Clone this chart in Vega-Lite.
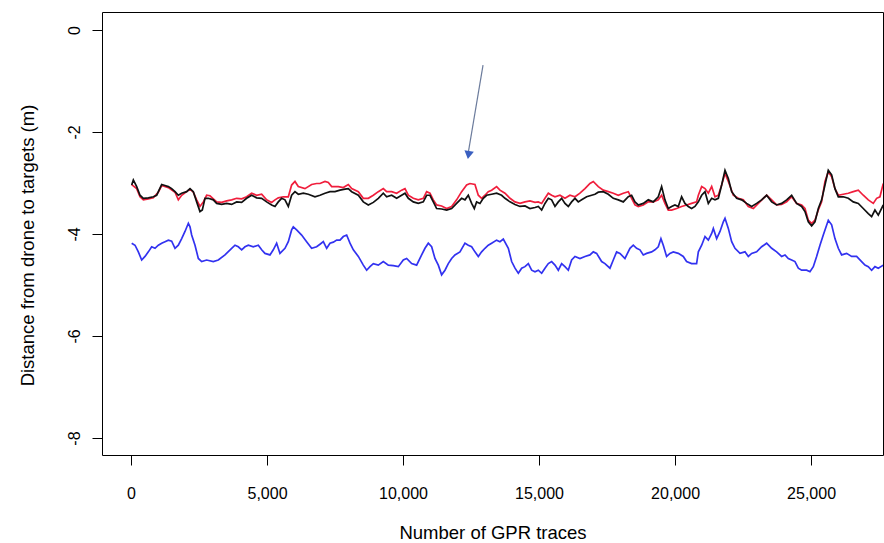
{
  "$schema": "https://vega.github.io/schema/vega-lite/v6.json",
  "width": 781,
  "height": 443,
  "autosize": {"type": "none"},
  "padding": {"left": 102, "top": 12, "right": 1, "bottom": 88},
  "background": "white",
  "config": {
    "view": {"stroke": "#000000", "strokeWidth": 1},
    "font": "Liberation Sans",
    "axis": {"grid": false, "domain": false, "tickColor": "#000000", "labelColor": "#000000", "titleColor": "#000000", "labelFont": "Liberation Sans", "titleFont": "Liberation Sans", "titleFontWeight": "normal"}
  },
  "datasets": {
    "black": [
      {"x":25,"y":-3.04},{"x":86,"y":-2.94},{"x":209,"y":-3.07},{"x":331,"y":-3.24},{"x":454,"y":-3.30},{"x":638,"y":-3.29},{"x":821,"y":-3.27},{"x":944,"y":-3.24},{"x":1005,"y":-3.17},{"x":1128,"y":-3.03},{"x":1250,"y":-3.05},{"x":1373,"y":-3.07},{"x":1495,"y":-3.11},{"x":1618,"y":-3.17},{"x":1740,"y":-3.24},{"x":1863,"y":-3.20},{"x":2046,"y":-3.17},{"x":2169,"y":-3.11},{"x":2291,"y":-3.17},{"x":2414,"y":-3.37},{"x":2536,"y":-3.56},{"x":2622,"y":-3.53},{"x":2720,"y":-3.30},{"x":2843,"y":-3.30},{"x":3026,"y":-3.33},{"x":3149,"y":-3.40},{"x":3333,"y":-3.42},{"x":3516,"y":-3.40},{"x":3700,"y":-3.42},{"x":3884,"y":-3.37},{"x":4068,"y":-3.38},{"x":4251,"y":-3.30},{"x":4435,"y":-3.24},{"x":4619,"y":-3.29},{"x":4803,"y":-3.30},{"x":4986,"y":-3.37},{"x":5170,"y":-3.43},{"x":5293,"y":-3.46},{"x":5415,"y":-3.37},{"x":5538,"y":-3.30},{"x":5660,"y":-3.33},{"x":5783,"y":-3.46},{"x":5905,"y":-3.24},{"x":6028,"y":-3.17},{"x":6150,"y":-3.22},{"x":6334,"y":-3.20},{"x":6518,"y":-3.22},{"x":6763,"y":-3.27},
      {"x":6948,"y":-3.24},{"x":7132,"y":-3.20},{"x":7315,"y":-3.17},{"x":7499,"y":-3.17},{"x":7683,"y":-3.14},{"x":7867,"y":-3.12},{"x":7989,"y":-3.11},{"x":8112,"y":-3.17},{"x":8357,"y":-3.24},{"x":8540,"y":-3.37},{"x":8724,"y":-3.43},{"x":8908,"y":-3.38},{"x":9092,"y":-3.30},{"x":9275,"y":-3.20},{"x":9398,"y":-3.27},{"x":9582,"y":-3.24},{"x":9765,"y":-3.30},{"x":9949,"y":-3.24},{"x":10072,"y":-3.20},{"x":10194,"y":-3.30},{"x":10378,"y":-3.37},{"x":10562,"y":-3.40},{"x":10745,"y":-3.37},{"x":10868,"y":-3.24},{"x":10990,"y":-3.24},{"x":11113,"y":-3.37},{"x":11235,"y":-3.50},{"x":11419,"y":-3.51},{"x":11603,"y":-3.53},{"x":11787,"y":-3.50},{"x":11970,"y":-3.40},{"x":12154,"y":-3.30},{"x":12277,"y":-3.33},{"x":12399,"y":-3.24},{"x":12522,"y":-3.40},{"x":12620,"y":-3.50},{"x":12705,"y":-3.37},{"x":12828,"y":-3.40},{"x":12950,"y":-3.30},{"x":13073,"y":-3.24},{"x":13257,"y":-3.22},{"x":13440,"y":-3.20},{"x":13624,"y":-3.24},
      {"x":13748,"y":-3.30},{"x":13932,"y":-3.37},{"x":14116,"y":-3.42},{"x":14299,"y":-3.46},{"x":14483,"y":-3.45},{"x":14667,"y":-3.50},{"x":14851,"y":-3.48},{"x":14973,"y":-3.46},{"x":15096,"y":-3.53},{"x":15218,"y":-3.40},{"x":15341,"y":-3.30},{"x":15463,"y":-3.33},{"x":15586,"y":-3.46},{"x":15708,"y":-3.37},{"x":15831,"y":-3.30},{"x":15953,"y":-3.40},{"x":16076,"y":-3.46},{"x":16198,"y":-3.37},{"x":16321,"y":-3.30},{"x":16443,"y":-3.37},{"x":16566,"y":-3.33},{"x":16749,"y":-3.27},{"x":16933,"y":-3.24},{"x":17056,"y":-3.22},{"x":17178,"y":-3.18},{"x":17362,"y":-3.17},{"x":17546,"y":-3.22},{"x":17729,"y":-3.30},{"x":17913,"y":-3.33},{"x":18097,"y":-3.37},{"x":18281,"y":-3.27},{"x":18403,"y":-3.24},{"x":18526,"y":-3.37},{"x":18648,"y":-3.43},{"x":18832,"y":-3.40},{"x":19016,"y":-3.33},{"x":19199,"y":-3.37},{"x":19383,"y":-3.27},{"x":19506,"y":-3.07},{"x":19628,"y":-3.33},{"x":19751,"y":-3.50},{"x":19873,"y":-3.46},{"x":19996,"y":-3.43},{"x":20118,"y":-3.46},{"x":20241,"y":-3.27},{"x":20363,"y":-3.40},{"x":20486,"y":-3.46},{"x":20608,"y":-3.50},{"x":20731,"y":-3.46},
      {"x":20856,"y":-3.37},{"x":20978,"y":-3.24},{"x":21101,"y":-3.17},{"x":21223,"y":-3.40},{"x":21346,"y":-3.30},{"x":21468,"y":-3.33},{"x":21591,"y":-3.30},{"x":21713,"y":-3.04},{"x":21836,"y":-2.75},{"x":21958,"y":-2.91},{"x":22081,"y":-3.17},{"x":22264,"y":-3.30},{"x":22448,"y":-3.33},{"x":22632,"y":-3.40},{"x":22816,"y":-3.46},{"x":22999,"y":-3.40},{"x":23183,"y":-3.33},{"x":23367,"y":-3.24},{"x":23551,"y":-3.37},{"x":23734,"y":-3.43},{"x":23918,"y":-3.40},{"x":24102,"y":-3.33},{"x":24286,"y":-3.24},{"x":24469,"y":-3.40},{"x":24653,"y":-3.46},{"x":24776,"y":-3.56},{"x":24898,"y":-3.76},{"x":25021,"y":-3.84},{"x":25143,"y":-3.76},{"x":25266,"y":-3.50},{"x":25388,"y":-3.33},{"x":25511,"y":-3.04},{"x":25633,"y":-2.75},{"x":25756,"y":-2.84},{"x":25878,"y":-3.11},{"x":26001,"y":-3.27},{"x":26184,"y":-3.27},{"x":26368,"y":-3.30},{"x":26552,"y":-3.37},{"x":26736,"y":-3.40},{"x":26919,"y":-3.50},{"x":27103,"y":-3.60},{"x":27226,"y":-3.66},{"x":27348,"y":-3.53},{"x":27471,"y":-3.63},{"x":27654,"y":-3.43}
    ],
    "red": [
      {"x":25,"y":-3.03},{"x":209,"y":-3.11},{"x":331,"y":-3.27},{"x":454,"y":-3.33},{"x":638,"y":-3.31},{"x":821,"y":-3.29},{"x":1005,"y":-3.18},{"x":1128,"y":-3.05},{"x":1373,"y":-3.09},{"x":1618,"y":-3.18},{"x":1740,"y":-3.33},{"x":1863,"y":-3.24},{"x":2046,"y":-3.17},{"x":2169,"y":-3.12},{"x":2291,"y":-3.18},{"x":2414,"y":-3.33},{"x":2536,"y":-3.46},{"x":2659,"y":-3.37},{"x":2781,"y":-3.24},{"x":2904,"y":-3.25},{"x":3026,"y":-3.31},{"x":3149,"y":-3.37},{"x":3333,"y":-3.38},{"x":3516,"y":-3.35},{"x":3700,"y":-3.33},{"x":3884,"y":-3.30},{"x":4068,"y":-3.31},{"x":4251,"y":-3.27},{"x":4435,"y":-3.20},{"x":4619,"y":-3.24},{"x":4803,"y":-3.22},{"x":4986,"y":-3.33},{"x":5170,"y":-3.38},{"x":5293,"y":-3.33},{"x":5415,"y":-3.29},{"x":5599,"y":-3.27},{"x":5783,"y":-3.27},{"x":5905,"y":-3.04},{"x":6028,"y":-2.97},{"x":6150,"y":-3.07},{"x":6395,"y":-3.11},{"x":6640,"y":-3.03},{"x":6824,"y":-3.01},
      {"x":6948,"y":-3.01},{"x":7132,"y":-2.97},{"x":7254,"y":-2.99},{"x":7377,"y":-3.07},{"x":7622,"y":-3.07},{"x":7805,"y":-3.09},{"x":7928,"y":-3.05},{"x":7989,"y":-3.03},{"x":8112,"y":-3.11},{"x":8357,"y":-3.17},{"x":8540,"y":-3.30},{"x":8724,"y":-3.30},{"x":8908,"y":-3.24},{"x":9092,"y":-3.17},{"x":9275,"y":-3.11},{"x":9398,"y":-3.17},{"x":9582,"y":-3.17},{"x":9765,"y":-3.20},{"x":9949,"y":-3.14},{"x":10072,"y":-3.11},{"x":10194,"y":-3.24},{"x":10378,"y":-3.30},{"x":10562,"y":-3.33},{"x":10745,"y":-3.30},{"x":10868,"y":-3.17},{"x":10990,"y":-3.20},{"x":11113,"y":-3.33},{"x":11235,"y":-3.43},{"x":11419,"y":-3.45},{"x":11603,"y":-3.50},{"x":11787,"y":-3.46},{"x":11970,"y":-3.33},{"x":12154,"y":-3.17},{"x":12338,"y":-3.04},{"x":12460,"y":-3.01},{"x":12644,"y":-3.03},{"x":12767,"y":-3.24},{"x":12889,"y":-3.30},{"x":13012,"y":-3.24},{"x":13134,"y":-3.17},{"x":13257,"y":-3.14},{"x":13440,"y":-3.07},{"x":13563,"y":-3.14},{"x":13747,"y":-3.20},
      {"x":13932,"y":-3.30},{"x":14116,"y":-3.37},{"x":14299,"y":-3.40},{"x":14483,"y":-3.37},{"x":14667,"y":-3.35},{"x":14851,"y":-3.38},{"x":14973,"y":-3.37},{"x":15096,"y":-3.40},{"x":15218,"y":-3.30},{"x":15341,"y":-3.20},{"x":15463,"y":-3.24},{"x":15586,"y":-3.27},{"x":15769,"y":-3.24},{"x":15953,"y":-3.30},{"x":16137,"y":-3.24},{"x":16321,"y":-3.27},{"x":16504,"y":-3.20},{"x":16688,"y":-3.11},{"x":16872,"y":-3.01},{"x":16994,"y":-2.97},{"x":17178,"y":-3.07},{"x":17362,"y":-3.14},{"x":17546,"y":-3.17},{"x":17729,"y":-3.20},{"x":17913,"y":-3.24},{"x":18097,"y":-3.20},{"x":18281,"y":-3.17},{"x":18403,"y":-3.30},{"x":18526,"y":-3.43},{"x":18648,"y":-3.46},{"x":18832,"y":-3.43},{"x":19016,"y":-3.37},{"x":19199,"y":-3.37},{"x":19383,"y":-3.33},{"x":19506,"y":-3.24},{"x":19628,"y":-3.40},{"x":19751,"y":-3.53},{"x":19873,"y":-3.53},{"x":20057,"y":-3.50},{"x":20241,"y":-3.46},{"x":20424,"y":-3.43},{"x":20608,"y":-3.40},{"x":20792,"y":-3.37},
      {"x":20856,"y":-3.24},{"x":20978,"y":-3.07},{"x":21101,"y":-3.11},{"x":21223,"y":-3.20},{"x":21346,"y":-3.07},{"x":21468,"y":-3.27},{"x":21591,"y":-3.24},{"x":21713,"y":-3.04},{"x":21836,"y":-2.81},{"x":21958,"y":-2.97},{"x":22142,"y":-3.24},{"x":22326,"y":-3.30},{"x":22509,"y":-3.33},{"x":22693,"y":-3.46},{"x":22877,"y":-3.50},{"x":23061,"y":-3.40},{"x":23244,"y":-3.30},{"x":23367,"y":-3.24},{"x":23551,"y":-3.33},{"x":23734,"y":-3.43},{"x":23918,"y":-3.42},{"x":24102,"y":-3.37},{"x":24286,"y":-3.27},{"x":24469,"y":-3.40},{"x":24653,"y":-3.43},{"x":24776,"y":-3.50},{"x":24898,"y":-3.73},{"x":25021,"y":-3.79},{"x":25143,"y":-3.73},{"x":25266,"y":-3.53},{"x":25388,"y":-3.37},{"x":25511,"y":-2.97},{"x":25633,"y":-2.78},{"x":25756,"y":-2.88},{"x":25878,"y":-3.11},{"x":26001,"y":-3.24},{"x":26184,"y":-3.22},{"x":26368,"y":-3.20},{"x":26552,"y":-3.17},{"x":26736,"y":-3.14},{"x":26919,"y":-3.24},{"x":27103,"y":-3.33},{"x":27287,"y":-3.40},{"x":27410,"y":-3.30},{"x":27532,"y":-3.27},{"x":27654,"y":-3.01}
    ],
    "blue": [
      {"x":25,"y":-4.18},{"x":148,"y":-4.22},{"x":270,"y":-4.35},{"x":393,"y":-4.51},{"x":515,"y":-4.44},{"x":638,"y":-4.35},{"x":760,"y":-4.25},{"x":883,"y":-4.28},{"x":1005,"y":-4.22},{"x":1128,"y":-4.18},{"x":1250,"y":-4.15},{"x":1373,"y":-4.12},{"x":1495,"y":-4.14},{"x":1618,"y":-4.28},{"x":1740,"y":-4.22},{"x":1863,"y":-4.09},{"x":1985,"y":-3.95},{"x":2108,"y":-3.79},{"x":2169,"y":-3.86},{"x":2230,"y":-4.02},{"x":2353,"y":-4.22},{"x":2475,"y":-4.48},{"x":2598,"y":-4.54},{"x":2781,"y":-4.51},{"x":3026,"y":-4.54},{"x":3210,"y":-4.51},{"x":3455,"y":-4.41},{"x":3700,"y":-4.28},{"x":3823,"y":-4.22},{"x":3945,"y":-4.25},{"x":4068,"y":-4.31},{"x":4190,"y":-4.25},{"x":4313,"y":-4.22},{"x":4496,"y":-4.25},{"x":4680,"y":-4.22},{"x":4803,"y":-4.31},{"x":4925,"y":-4.38},{"x":5109,"y":-4.41},{"x":5231,"y":-4.31},{"x":5354,"y":-4.18},{"x":5476,"y":-4.38},{"x":5660,"y":-4.28},{"x":5783,"y":-4.15},{"x":5905,"y":-3.92},{"x":5966,"y":-3.86},{"x":6089,"y":-3.92},{"x":6273,"y":-4.02},{"x":6456,"y":-4.15},{"x":6640,"y":-4.28},{"x":6824,"y":-4.25},
      {"x":6948,"y":-4.20},{"x":7070,"y":-4.15},{"x":7193,"y":-4.28},{"x":7315,"y":-4.18},{"x":7438,"y":-4.16},{"x":7560,"y":-4.12},{"x":7683,"y":-4.12},{"x":7805,"y":-4.05},{"x":7928,"y":-4.02},{"x":8050,"y":-4.18},{"x":8173,"y":-4.31},{"x":8357,"y":-4.44},{"x":8540,"y":-4.61},{"x":8663,"y":-4.71},{"x":8785,"y":-4.64},{"x":8908,"y":-4.58},{"x":9092,"y":-4.61},{"x":9275,"y":-4.54},{"x":9459,"y":-4.61},{"x":9643,"y":-4.62},{"x":9827,"y":-4.64},{"x":10010,"y":-4.51},{"x":10133,"y":-4.48},{"x":10317,"y":-4.58},{"x":10500,"y":-4.61},{"x":10684,"y":-4.41},{"x":10807,"y":-4.28},{"x":10929,"y":-4.18},{"x":11052,"y":-4.25},{"x":11174,"y":-4.48},{"x":11297,"y":-4.61},{"x":11419,"y":-4.80},{"x":11542,"y":-4.71},{"x":11664,"y":-4.58},{"x":11787,"y":-4.48},{"x":11909,"y":-4.41},{"x":12093,"y":-4.35},{"x":12277,"y":-4.18},{"x":12399,"y":-4.22},{"x":12522,"y":-4.25},{"x":12644,"y":-4.35},{"x":12767,"y":-4.44},{"x":12889,"y":-4.35},{"x":13012,"y":-4.28},{"x":13134,"y":-4.22},{"x":13257,"y":-4.18},{"x":13440,"y":-4.12},{"x":13563,"y":-4.15},{"x":13686,"y":-4.10},
      {"x":13871,"y":-4.28},{"x":13993,"y":-4.54},{"x":14116,"y":-4.67},{"x":14238,"y":-4.77},{"x":14361,"y":-4.67},{"x":14483,"y":-4.64},{"x":14606,"y":-4.58},{"x":14728,"y":-4.71},{"x":14851,"y":-4.74},{"x":14973,"y":-4.71},{"x":15096,"y":-4.77},{"x":15218,"y":-4.67},{"x":15341,"y":-4.58},{"x":15463,"y":-4.54},{"x":15586,"y":-4.61},{"x":15708,"y":-4.71},{"x":15831,"y":-4.58},{"x":15953,"y":-4.64},{"x":16076,"y":-4.71},{"x":16198,"y":-4.51},{"x":16321,"y":-4.44},{"x":16504,"y":-4.48},{"x":16688,"y":-4.44},{"x":16872,"y":-4.41},{"x":16994,"y":-4.35},{"x":17117,"y":-4.38},{"x":17301,"y":-4.54},{"x":17423,"y":-4.58},{"x":17607,"y":-4.67},{"x":17729,"y":-4.51},{"x":17852,"y":-4.35},{"x":17974,"y":-4.38},{"x":18158,"y":-4.48},{"x":18342,"y":-4.28},{"x":18464,"y":-4.22},{"x":18587,"y":-4.28},{"x":18709,"y":-4.31},{"x":18832,"y":-4.41},{"x":18954,"y":-4.38},{"x":19138,"y":-4.35},{"x":19261,"y":-4.31},{"x":19383,"y":-4.25},{"x":19481,"y":-4.09},{"x":19567,"y":-4.22},{"x":19689,"y":-4.44},{"x":19812,"y":-4.38},{"x":19934,"y":-4.35},{"x":20118,"y":-4.38},{"x":20302,"y":-4.44},{"x":20424,"y":-4.54},{"x":20608,"y":-4.58},{"x":20792,"y":-4.58},
      {"x":20856,"y":-4.35},{"x":20978,"y":-4.22},{"x":21101,"y":-4.05},{"x":21223,"y":-4.12},{"x":21346,"y":-3.99},{"x":21407,"y":-3.89},{"x":21529,"y":-4.09},{"x":21652,"y":-3.95},{"x":21774,"y":-3.76},{"x":21836,"y":-3.69},{"x":21958,"y":-3.89},{"x":22081,"y":-4.15},{"x":22203,"y":-4.28},{"x":22387,"y":-4.38},{"x":22571,"y":-4.35},{"x":22693,"y":-4.44},{"x":22816,"y":-4.38},{"x":22999,"y":-4.35},{"x":23183,"y":-4.25},{"x":23367,"y":-4.18},{"x":23551,"y":-4.28},{"x":23734,"y":-4.35},{"x":23918,"y":-4.44},{"x":24041,"y":-4.41},{"x":24163,"y":-4.48},{"x":24286,"y":-4.51},{"x":24408,"y":-4.54},{"x":24531,"y":-4.67},{"x":24653,"y":-4.71},{"x":24837,"y":-4.71},{"x":24959,"y":-4.74},{"x":25082,"y":-4.64},{"x":25204,"y":-4.44},{"x":25327,"y":-4.22},{"x":25449,"y":-4.02},{"x":25633,"y":-3.73},{"x":25756,"y":-3.82},{"x":25878,"y":-4.09},{"x":26001,"y":-4.28},{"x":26123,"y":-4.41},{"x":26307,"y":-4.38},{"x":26491,"y":-4.44},{"x":26674,"y":-4.44},{"x":26858,"y":-4.54},{"x":26981,"y":-4.61},{"x":27103,"y":-4.64},{"x":27226,"y":-4.71},{"x":27348,"y":-4.64},{"x":27471,"y":-4.67},{"x":27654,"y":-4.61}
    ],
    "arrow": [{"x":12941,"y":-0.69,"x2":12400,"y2":-2.40}],
    "head": [{"x":12407,"y":-2.45}]
  },
  "encoding": {
    "x": {
      "field": "x", "type": "quantitative",
      "scale": {"domain": [-1066, 27644], "nice": false, "zero": false},
      "axis": {"values": [0,5000,10000,15000,20000,25000], "format": ",d", "title": "Number of GPR traces", "tickSize": 10, "labelPadding": 20, "labelFontSize": 16, "labelBaseline": "top", "titleFontSize": 18.5, "titleY": 77, "titleBaseline": "middle"}
    },
    "y": {
      "field": "y", "type": "quantitative",
      "scale": {"domain": [-8.333, 0.353], "nice": false, "zero": false},
      "axis": {"values": [0,-2,-4,-6,-8], "labelExpr": "toString(datum.value)", "title": "Distance from drone to targets (m)", "tickSize": 10, "labelPadding": 10, "labelFontSize": 16, "labelAngle": -90, "labelAlign": "center", "labelBaseline": "bottom", "titleFontSize": 18.5, "titleX": -75, "titleY": 233, "titleBaseline": "middle", "titleAngle": -90}
    }
  },
  "layer": [
    {"data": {"name": "blue"}, "mark": {"type": "line", "color": "#3232f0", "strokeWidth": 1.7, "clip": true}},
    {"data": {"name": "red"}, "mark": {"type": "line", "color": "#f01e3c", "strokeWidth": 1.7, "clip": true}},
    {"data": {"name": "black"}, "mark": {"type": "line", "color": "#111111", "strokeWidth": 1.7, "clip": true}},
    {"data": {"name": "arrow"}, "mark": {"type": "rule", "color": "#6b7b9c", "strokeWidth": 1.2}, "encoding": {"x2": {"field": "x2"}, "y2": {"field": "y2"}}},
    {"data": {"name": "head"}, "mark": {"type": "point", "shape": "triangle-down", "filled": true, "color": "#3a5fc0", "size": 90, "angle": 9, "opacity": 1}}
  ]
}
